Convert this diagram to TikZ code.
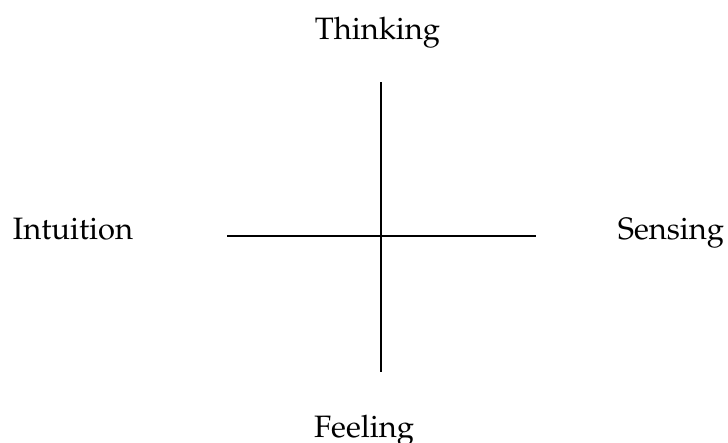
\documentclass[tikz,border=0pt]{standalone}
\usepackage[T1]{fontenc}
\usepackage{mathpazo}
\usepackage{tikz}
\usetikzlibrary{positioning}

\begin{document}
\begin{tikzpicture}[x=0.02cm, y=-0.02cm, every node/.style={inner sep=0pt, anchor=base, font=\fontsize{17.6}{21}\selectfont}]
        \useasboundingbox (0,0) rectangle (728,443);
        % Axis ends
        \coordinate (top) at (381,82);
        \coordinate (bottom) at (381,372);
        \coordinate (left) at (227,236);
        \coordinate (right) at (536,236);
        
        % Labels
        \node (thinking) at (377.5,39) {Thinking};
        \node (feeling) at (364,437) {Feeling};
        \node (intuition) at (73,239) {Intuition};
        \node (sensing) at (671,239) {Sensing};
        
        % Axes
        \draw[thick] (top) -- (bottom);
        \draw[thick] (left) -- (right);
    \end{tikzpicture}
\end{document}
